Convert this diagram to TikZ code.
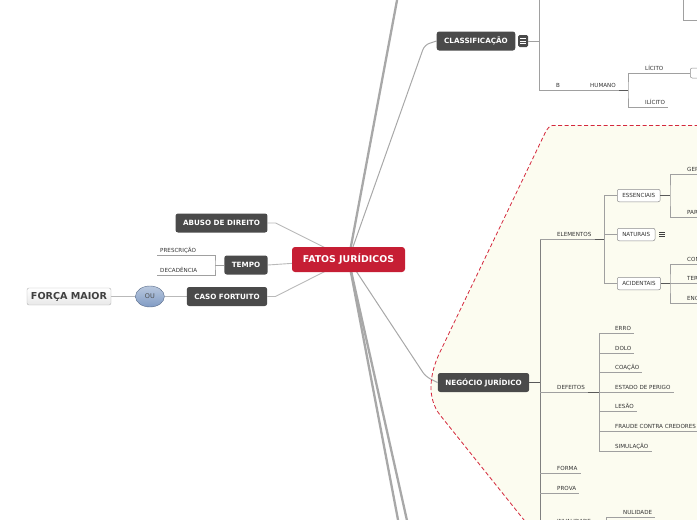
\documentclass[tikz,border=0pt]{standalone}
\usepackage{fontspec}
\setmainfont{DejaVu Sans}
\usetikzlibrary{positioning, calc, shapes.geometric, backgrounds}

\definecolor{fjred}{RGB}{198,30,52}
\definecolor{topicgray}{RGB}{74,74,74}
\definecolor{linegray}{RGB}{168,168,168}
\definecolor{twiggray}{RGB}{160,160,160}
\definecolor{boxgray}{RGB}{140,140,140}
\definecolor{boundred}{RGB}{212,40,60}
\definecolor{boundfill}{RGB}{252,252,240}
\definecolor{oublue}{RGB}{128,155,196}

\begin{document}
\begin{tikzpicture}[x=1pt, y=-1pt,
  root/.style={fill=fjred, rounded corners=3pt, text=white, minimum width=113pt,
               minimum height=25pt, font=\fontsize{9.4}{10}\selectfont\bfseries},
  topic/.style={fill=topicgray, rounded corners=2.5pt, text=white, inner xsep=7.5pt,
                minimum height=19pt, font=\fontsize{7.2}{8}\selectfont\bfseries},
  subbox/.style={draw=boxgray, fill=white, line width=0.5pt, rounded corners=2pt,
                 inner xsep=5pt, minimum height=12.5pt, text=black!80,
                 font=\fontsize{5.6}{6}\selectfont},
  leaf/.style={inner xsep=3pt, inner ysep=2pt, text depth=0.5pt, text=black!80,
               font=\fontsize{5.6}{6}\selectfont},
  major/.style={draw=gray!60, top color=white, bottom color=gray!18, rounded corners=2pt,
                minimum width=84pt, minimum height=17pt, text=black!75,
                font=\fontsize{9.6}{10}\selectfont\bfseries},
  ouball/.style={ellipse, draw=oublue!70!black, top color=oublue!55, bottom color=oublue,
                 minimum width=29pt, minimum height=21pt, inner sep=0pt, text=black!70,
                 font=\fontsize{6.5}{7}\selectfont},
  iconbox/.style={fill=topicgray, rounded corners=1.5pt, minimum width=10pt,
                  minimum height=12pt, inner sep=0pt},
  trunk/.style={draw=linegray, line width=2.3pt},
  bough/.style={draw=linegray, line width=1pt, rounded corners=5pt},
  limb/.style={draw=linegray!80, line width=0.9pt},
  twig/.style={draw=twiggray, line width=0.6pt},
  knot/.style={draw=black!65, line width=0.8pt},
  bound/.style={draw=boundred, dash pattern=on 4pt off 2.5pt, line width=0.8pt},
]
\useasboundingbox (0,0) rectangle (697,520);
\clip (0,0) rectangle (697,520);

% ===== CENTRAL TOPIC =====
\node[root] (fj) at (348.5,259.5) {FATOS JURÍDICOS};

% ===== LEFT BRANCHES =====
\node[topic] (ab) at (221.5,223) {ABUSO DE DIREITO};
\node[topic] (tp) at (246,265) {TEMPO};
\node[topic] (cf) at (227,296.5) {CASO FORTUITO};
\node[ouball, left=22pt of cf] (ou) {OU};
\node[major, left=24pt of ou] (fm) {FORÇA MAIOR};
\node[leaf, anchor=south west] (pre) at (157,255) {PRESCRIÇÃO};
\node[leaf, anchor=south west] (dec) at (157,275) {DECADÊNCIA};
\coordinate (tpx) at (215,265);

% ===== CLASSIFICACAO (top right) =====
\node[topic] (cls) at (476,41) {CLASSIFICAÇÃO};
\node[iconbox, right=2.5pt of cls] (clsic) {};
\coordinate (cltop) at (539.5,-5);
\coordinate (clx) at (539.5,41);
\node[leaf, anchor=south west] (b) at (553,90) {B};
\node[leaf, anchor=south west] (hm) at (587,90) {HUMANO};
\coordinate (hmx) at (628,90);
\node[leaf, anchor=south west] (lic) at (642,73) {LÍCITO};
\node[leaf, anchor=south west] (ili) at (642,107) {ILÍCITO};
\node[subbox, minimum width=30pt, minimum height=10pt, anchor=west] (licnext) at (690,73) {};
\coordinate (trtop) at (683,-5);
\coordinate (trend) at (705,20);

% ===== NEGOCIO JURIDICO (boundary) =====
\node[topic] (ng) at (483.5,382.5) {NEGÓCIO JURÍDICO};
\coordinate (ngx) at (540,382.5);
\coordinate (ngtop) at (540,239.5);
\coordinate (ngbot) at (540,530);

% elementos
\node[leaf, anchor=south west] (el) at (554,239.5) {ELEMENTOS};
\coordinate (elx) at (604.5,239.5);
\node[subbox, anchor=west] (ess) at (617,195.5) {ESSENCIAIS};
\node[subbox, anchor=west] (nat) at (617,234.5) {NATURAIS};
\node[subbox, anchor=west] (aci) at (617,283.5) {ACIDENTAIS};
\coordinate (naticon) at (662,234.5);
\coordinate (essx) at (670,195.5);
\coordinate (acix) at (670,283.5);
\node[leaf, anchor=south west] (ger) at (684,174.5) {GERAIS};
\node[leaf, anchor=south west] (par) at (684,217) {PARTICULARES};
\node[leaf, anchor=south west] (con) at (684,264) {CONDIÇÃO};
\node[leaf, anchor=south west] (ter) at (684,283.5) {TERMO};
\node[leaf, anchor=south west] (enc) at (684,303) {ENCARGO};
\coordinate (gerend) at (705,174.5);
\coordinate (parend) at (705,217);
\coordinate (conend) at (705,264);
\coordinate (terend) at (705,283.5);
\coordinate (encend) at (705,303);

% defeitos
\node[leaf, anchor=south west] (def) at (554,392) {DEFEITOS};
\coordinate (dfx) at (599.5,392);
\foreach \nm/\y/\txt in {erro/333/ERRO, dolo/353/DOLO, coa/372.5/COAÇÃO,
    est/392/ESTADO DE PERIGO, les/411.5/LESÃO, fra/431.5/FRAUDE CONTRA CREDORES,
    sim/451/SIMULAÇÃO}
  \node[leaf, anchor=south west] (\nm) at (612,\y) {\txt};

% forma, prova, invalidade
\node[leaf, anchor=south west] (forma) at (554,473.5) {FORMA};
\node[leaf, anchor=south west] (prova) at (554,493.5) {PROVA};
\node[leaf, anchor=base west] (inv) at (554,523) {INVALIDADE};
\coordinate (ivx) at (606,530);
\node[leaf, anchor=south west] (nul) at (620,517) {NULIDADE};

% ===== SUBTOPIC LINES =====
\draw[twig] (tp.west) -- (tpx);
\draw[twig] (pre.south west) -| (tpx) |- (dec.south west);

\draw[twig, line width=1pt] (clsic.east) -- (clx);
\draw[twig] (cltop) -- (clx) |- (hmx);
\draw[knot] (hm.south east) -- (hmx);
\draw[twig] (licnext.west) -| (hmx) |- (ili.south east);
\draw[twig] (trtop) |- (trend);

\draw[knot] (ng.east) -- (ngx);
\draw[twig, draw=black!50] (ngtop) -- (ngbot);
\draw[twig] (ngtop) -- (elx);
\draw[knot] (el.south east) -- (elx);
\draw[twig] (ess.west) -| (elx) |- (aci.west);
\draw[twig] (elx) |- (nat.west);
\draw[knot] (ess.east) -- (essx);
\draw[twig] (gerend) -| (essx) |- (parend);
\draw[knot] (aci.east) -- (acix);
\draw[twig] (conend) -| (acix) |- (encend);
\draw[twig] (acix) -- (terend);

\draw[twig] (ngx |- dfx) -- (dfx);
\draw[knot] (def.south east) -- (dfx);
\foreach \nm in {erro, dolo, coa, est, les, fra, sim}
  \draw[twig] (dfx) |- (\nm.south east);
\draw[twig] (ngx |- forma.south) -- (forma.south east);
\draw[twig] (ngx |- prova.south) -- (prova.south east);
\draw[twig] (ivx) |- (nul.south east);

% collapse icons
\foreach \dy in {-2.5,0,2.5}
  \draw[white, line width=0.6pt] ($(clsic.center)+(-3,\dy)$) -- ++(6,0);
\foreach \dy in {-2.2,0,2.2}
  \draw[black!75, line width=0.5pt] ($(naticon)+(-3,\dy)$) -- ++(6,0);

% ===== BOUNDARY AND MAIN CONNECTORS (background layer) =====
\begin{scope}[on background layer]
  \coordinate (bd1) at (705,125.5);
  \coordinate (bd2) at (555,125.5);
  \coordinate (bd3) at (546,131);
  \coordinate (bd4) at (440,352);
  \coordinate (bd5) at (440,415);
  \coordinate (bd6) at (528,525);
  \fill[boundfill] (bd1) -- (bd2) .. controls (550,125.5) .. (bd3) -- (bd4)
    .. controls (429,375) and (427,398) .. (bd5) -- (bd6) -- (705,525) -- cycle;

  \coordinate (up) at (398,-5);
  \coordinate (dnl) at (399,525);
  \coordinate (dnr) at (408,525);
  \draw[trunk] (fj.center) -- (up);
  \draw[trunk] (fj.center) -- (dnl);
  \draw[trunk] (fj.center) -- (dnr);
  \draw[bough] (fj.center) -- ($(cls.west)+(-12,4)$) -- (cls.west);
  \draw[bough] (fj.center) -- ($(ng.west)+(-12,-6)$) -- (ng.west);

  \draw[limb] (ab.east) -- ++(8,0) -- (fj.center);
  \draw[limb] (tp.east) -- (fj.center);
  \draw[limb] (cf.east) -- ++(8,0) -- (fj.center);
  \draw[limb] (fm) -- (ou);
  \draw[limb] (ou) -- (cf);

  \draw[bound] (bd1) -- (bd2) .. controls (550,125.5) .. (bd3) -- (bd4)
    .. controls (429,375) and (427,398) .. (bd5) -- (bd6);
\end{scope}

\end{tikzpicture}
\end{document}
